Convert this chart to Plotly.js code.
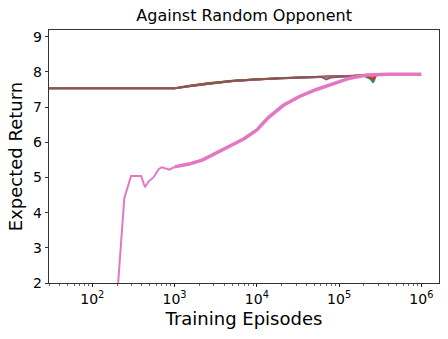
<!DOCTYPE html>
<html>
<head>
<meta charset="utf-8">
<script src="https://cdn.plot.ly/plotly-3.0.1.min.js"></script>
<style>
  html, body { margin: 0; padding: 0; background: #fff; }
  #chart { width: 448px; height: 339px; }
</style>
</head>
<body>
<div id="chart"></div>
<script>
// episodes for the six agents that start from a pretrained policy
const episodes = [20, 1000, 1500, 2500, 5000, 10000, 20000, 40000, 60000, 70000, 80000, 100000, 150000, 200000, 240000, 260000, 280000]
const blue   = [7.53, 7.53, 7.59, 7.66, 7.74, 7.79, 7.82, 7.84, 7.86, 7.86, 7.86, 7.87, 7.88, 7.89, 7.80, 7.70, 7.90]
const orange = [7.54, 7.54, 7.60, 7.67, 7.74, 7.79, 7.82, 7.85, 7.86, 7.87, 7.86, 7.87, 7.88, 7.90, 7.88, 7.85, 7.90]
const green  = [7.54, 7.54, 7.61, 7.68, 7.75, 7.80, 7.83, 7.85, 7.86, 7.86, 7.87, 7.88, 7.89, 7.91, 7.82, 7.76, 7.90]
const red    = [7.53, 7.53, 7.60, 7.67, 7.74, 7.79, 7.82, 7.85, 7.86, 7.86, 7.87, 7.87, 7.88, 7.90, 7.84, 7.79, 7.90]
const purple = [7.53, 7.53, 7.59, 7.66, 7.73, 7.78, 7.82, 7.84, 7.85, 7.86, 7.86, 7.87, 7.88, 7.89, 7.90, 7.88, 7.90]
const brown  = [7.53, 7.53, 7.59, 7.66, 7.74, 7.79, 7.82, 7.84, 7.86, 7.78, 7.84, 7.86, 7.87, 7.88, 7.89, 7.89, 7.90]

// agent trained from scratch
const pinkEpisodes = [192, 207, 245, 296, 393, 437, 486, 554, 644, 700, 790, 870, 1000, 1500, 2200, 3000, 4500, 7000, 10000, 13800, 21000, 33000, 53000, 85000, 135000, 215000, 400000, 1000000]
const pinkReturn   = [1.0, 2.0, 4.41, 5.04, 5.04, 4.72, 4.89, 5.0, 5.24, 5.29, 5.25, 5.22, 5.30, 5.38, 5.50, 5.66, 5.88, 6.10, 6.35, 6.70, 7.05, 7.30, 7.50, 7.67, 7.82, 7.91, 7.93, 7.93]

const xTicks = [100, 1000, 10000, 100000, 1000000]
const xTickText = ['10<sup>2</sup>', '10<sup>3</sup>', '10<sup>4</sup>', '10<sup>5</sup>', '10<sup>6</sup>']
const yTicks = [2, 3, 4, 5, 6, 7, 8, 9]

const series = [
  [blue, '#1f77b4'],
  [orange, '#ff7f0e'],
  [green, '#2ca02c'],
  [red, '#d62728'],
  [purple, '#9467bd'],
  [brown, '#8c564b'],
]

const data = series.map(([ys, color]) => ({
  x: episodes,
  y: ys,
  type: 'scatter',
  mode: 'lines',
  line: { color: color, width: 1.8 },
  hoverinfo: 'skip',
}))

// the early part of the scratch run is a clean line, later it is noisy (drawn thicker)
const split = pinkEpisodes.indexOf(1000)
data.push({
  x: pinkEpisodes.slice(0, split + 1),
  y: pinkReturn.slice(0, split + 1),
  type: 'scatter',
  mode: 'lines',
  line: { color: '#e377c2', width: 2 },
})
data.push({
  x: pinkEpisodes.slice(split),
  y: pinkReturn.slice(split),
  type: 'scatter',
  mode: 'lines',
  line: { color: '#e377c2', width: 3.5 },
})

const font = { family: 'DejaVu Sans, sans-serif', color: '#000' }

const layout = {
  width: 448,
  height: 339,
  margin: { l: 49, r: 9, t: 30, b: 56 },
  paper_bgcolor: '#fff',
  plot_bgcolor: '#fff',
  showlegend: false,
  font: Object.assign({ size: 14 }, font),
  title: {
    text: 'Against Random Opponent',
    font: Object.assign({ size: 16 }, font),
    x: 0.545,
    xanchor: 'center',
    y: 0.955,
    yanchor: 'middle',
  },
  xaxis: {
    type: 'log',
    range: [1.474, 6.214],
    tickvals: xTicks,
    ticktext: xTickText,
    ticks: 'outside',
    ticklen: 3.5,
    tickwidth: 0.8,
    tickcolor: '#000',
    showgrid: false,
    zeroline: false,
    showline: true,
    linecolor: '#000',
    linewidth: 0.8,
    mirror: true,
    minor: { ticks: 'outside', ticklen: 2, tickwidth: 0.6, tickcolor: '#000', dtick: 'D1', showgrid: false },
    tickfont: Object.assign({ size: 14 }, font),
    title: { text: 'Training Episodes', font: Object.assign({ size: 18 }, font), standoff: 6 },
  },
  yaxis: {
    range: [2, 9.19],
    tickvals: yTicks,
    ticks: 'outside',
    ticklen: 3.5,
    tickwidth: 0.8,
    tickcolor: '#000',
    showgrid: false,
    zeroline: false,
    showline: true,
    linecolor: '#000',
    linewidth: 0.8,
    mirror: true,
    tickfont: Object.assign({ size: 14 }, font),
    title: { text: 'Expected Return', font: Object.assign({ size: 18 }, font), standoff: 5 },
  },
}

Plotly.newPlot('chart', data, layout, { staticPlot: true, displayModeBar: false })
</script>
</body>
</html>
